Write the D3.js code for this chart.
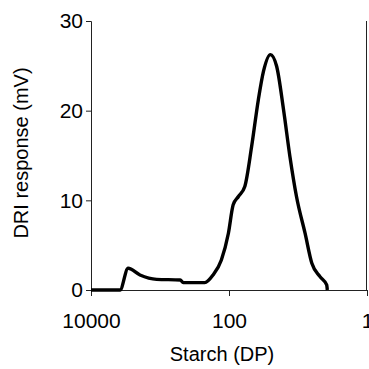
<!DOCTYPE html>
<html>
<head>
<meta charset="utf-8">
<script src="https://cdn.jsdelivr.net/npm/d3@7"></script>
<style>
  body { margin: 0; background: #fff; }
  text { font-family: "Liberation Sans", Arial, sans-serif; fill: #000; }
</style>
</head>
<body>
<div id="chart"></div>
<script>
// DP (degree of polymerisation) and DRI response
const dp = [10000, 3800, 2900, 1950, 1120, 510, 460, 225, 170, 129, 102, 87, 73, 59, 47, 37.6, 31.6, 25.1, 20.4, 16.2, 13.1, 10.5, 7.9, 6.3, 4.8, 3.84, 3.76];
const response = [0, 0, 2.42, 1.68, 1.19, 1.12, 0.82, 0.82, 1.68, 3.35, 6.33, 9.5, 10.43, 11.55, 16.0, 21.2, 24.4, 26.25, 24.95, 20.1, 14.9, 10.4, 6.33, 2.98, 1.49, 0.56, 0];
const xTicks = [10000, 100, 1];
const yTicks = [0, 10, 20, 30];

const W = 369, H = 369;
const svg = d3.select('#chart').append('svg')
	.attr('width', W)
	.attr('height', H);

const x = d3.scaleLog().domain([10000, 1]).range([91, 367]);
const y = d3.scaleLinear().domain([0, 30]).range([290, 21]);

const pts = dp.map((d, i) => ({dp: d, r: response[i]}));

// y axis
const yAxis = d3.axisLeft(y).tickValues(yTicks).tickSize(5).tickPadding(3).tickFormat(d3.format('d'));
const gy = svg.append('g').attr('transform', 'translate(' + x(10000) + ',0)').call(yAxis);
gy.selectAll('text').attr('font-size', '21px').attr('font-family', '"Liberation Sans", Arial, sans-serif');

// x axis
const xAxis = d3.axisBottom(x).tickValues(xTicks).tickSize(6).tickPadding(17).tickFormat(d3.format('d'));
const gx = svg.append('g').attr('transform', 'translate(0,' + y(0) + ')').call(xAxis);
gx.selectAll('text').attr('font-size', '21px').attr('font-family', '"Liberation Sans", Arial, sans-serif');

svg.selectAll('.domain, .tick line').attr('stroke', '#222').attr('stroke-width', 1);

// right border line at DP = 1
svg.append('line')
	.attr('x1', x(1) - 0.5).attr('x2', x(1) - 0.5)
	.attr('y1', y(30)).attr('y2', y(0))
	.attr('stroke', '#222')
	.attr('stroke-width', 1);

const line = d3.line()
	.x(d => x(d.dp))
	.y(d => y(d.r))
	.curve(d3.curveMonotoneX);

svg.append('path').datum(pts)
	.attr('d', line)
	.attr('fill', 'none')
	.attr('stroke', '#000')
	.attr('stroke-width', 3.4)
	.attr('stroke-linejoin', 'round');

svg.append('text')
	.attr('x', 222).attr('y', 361)
	.attr('text-anchor', 'middle')
	.attr('font-size', '20px')
	.text('Starch (DP)');

svg.append('text')
	.attr('transform', 'translate(28,153) rotate(-90)')
	.attr('text-anchor', 'middle')
	.attr('font-size', '20px')
	.text('DRI response (mV)');
</script>
</body>
</html>
